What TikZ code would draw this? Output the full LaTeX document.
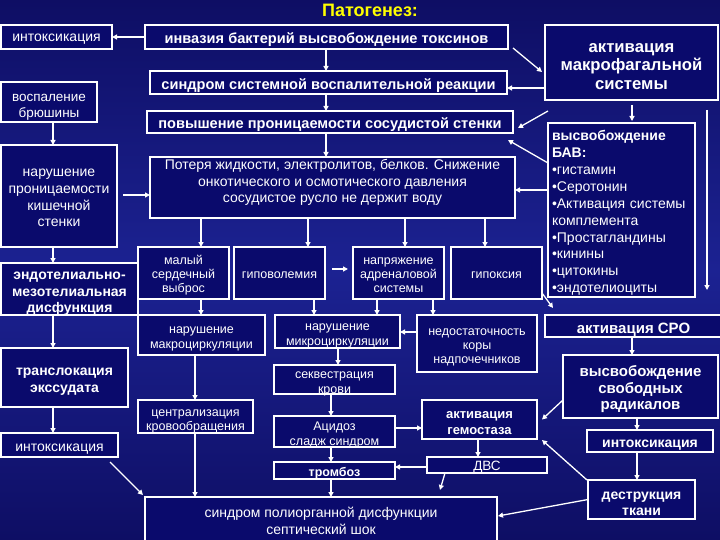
\documentclass[tikz,border=0pt]{standalone}
\usepackage{fontspec}
\setmainfont{Liberation Sans}
\usetikzlibrary{arrows.meta,calc}
\definecolor{bgA}{RGB}{14,14,100}
\definecolor{bgB}{RGB}{28,34,146}
\definecolor{boxfill}{RGB}{10,10,108}
\definecolor{ttl}{RGB}{255,255,0}
% \mybx{name}{cx}{cy}{w}{h}{text style}{shift down}{text}
\newcommand{\mybx}[8]{%
  \node[box,minimum width=#4,minimum height=#5] (#1) at (#2,#3) {};
  \node[lab,#6] (#1-t) at ([shift={(0,#7)}]#1.center) {#8};}
\begin{document}
\begin{tikzpicture}[x=1pt,y=-1pt,
 box/.style={draw=white,line width=1.3pt,fill=boxfill,inner sep=0pt,outer sep=0pt},
 lab/.style={text=white,align=center,inner sep=0pt},
 nt/.style={font=\fontsize{14}{16.7}\selectfont},
 sm/.style={font=\fontsize{12.5}{14.3}\selectfont},
 bd/.style={font=\bfseries\fontsize{14}{16.5}\selectfont},
 bdl/.style={font=\bfseries\fontsize{14.6}{17}\selectfont},
 arr/.style={draw=white,line width=1.3pt,-{Triangle[length=5pt,width=5pt]}}
]
\useasboundingbox (0,0) rectangle (720,540);
\shade[top color=bgA, bottom color=bgA, middle color=bgB] (0,0) rectangle (720,540);

\node[text=ttl,font=\bfseries\fontsize{18}{20}\selectfont] (title) at (370,10) {Патогенез:};

% left column
\mybx{intox1}{56.5}{37}{111}{24}{nt}{2.5}{интоксикация}
\mybx{vosp}{49}{102}{96}{40}{font=\fontsize{13.5}{16.5}\selectfont}{5.5}{воспаление\\брюшины}
\mybx{kish}{59}{196}{116}{102}{nt}{2}{нарушение\\проницаемости\\кишечной\\стенки}
\mybx{endo}{69.5}{289}{137}{52}{bd}{5}{эндотелиально-\\мезотелиальная\\дисфункция}
\mybx{transl}{64.5}{377.5}{127}{59}{bd}{4}{транслокация\\экссудата}
\mybx{intox2}{59.5}{445}{117}{24}{nt}{4}{интоксикация}

% central column
\mybx{inv}{326.5}{37}{363}{24}{bdl}{3}{инвазия бактерий высвобождение токсинов}
\mybx{sir}{328.5}{82.5}{357}{23}{bdl}{3}{синдром системной воспалительной реакции}
\mybx{perm}{330}{122}{366}{22}{bdl}{3}{повышение проницаемости сосудистой стенки}
\mybx{poter}{332.5}{187.5}{365}{61}{nt}{-5}{Потеря жидкости, электролитов, белков. Снижение\\онкотического и осмотического давления\\сосудистое русло не держит воду}

\mybx{maly}{183.5}{273}{91}{52}{sm}{2}{малый\\сердечный\\выброс}
\mybx{gipovol}{279.5}{273}{91}{52}{sm}{2}{гиповолемия}
\mybx{napr}{398.5}{273}{91}{52}{sm}{2}{напряжение\\адреналовой\\системы}
\mybx{gipox}{496.5}{273}{91}{52}{sm}{2}{гипоксия}

\mybx{macro}{201.5}{335}{127}{40}{sm}{4}{нарушение\\макроциркуляции}
\mybx{micro}{337.5}{331.5}{125}{33}{sm}{4.5}{нарушение\\микроциркуляции}
\mybx{nedost}{477}{343.5}{120}{57}{sm}{4}{недостаточность\\коры\\надпочечников}
\mybx{sekv}{334.5}{379.5}{121}{29}{sm}{4.5}{секвестрация\\крови}
\mybx{central}{195.5}{416.5}{115}{33}{sm}{5}{централизация\\кровообращения}
\mybx{acid}{334.5}{431.5}{121}{31}{sm}{3.5}{Ацидоз\\сладж синдром}
\mybx{gemo}{479.5}{419.5}{115}{39}{font=\bfseries\fontsize{13}{16}\selectfont}{3.5}{активация\\гемостаза}
\mybx{tromb}{334.5}{470.5}{121}{17}{font=\bfseries\fontsize{12.5}{14}\selectfont}{3}{тромбоз}
\mybx{dvs}{487}{465}{120}{16}{font=\fontsize{13.5}{15}\selectfont}{2}{ДВС}
\mybx{pon}{321}{519}{352}{44}{nt}{2}{синдром полиорганной дисфункции\\септический шок}

% right column
\mybx{mac}{631.5}{62.5}{173}{75}{font=\bfseries\fontsize{16.7}{18.5}\selectfont}{4}{активация\\макрофагальной\\системы}
\mybx{bav}{621.5}{210}{147}{174}{align=left,text width=139,font=\fontsize{14}{16.9}\selectfont}{3}{\textbf{высвобождение}\\\textbf{БАВ:}\\•гистамин\\•Серотонин\\•Активация системы\\комплемента\\•Простагландины\\•кинины\\•цитокины\\•эндотелиоциты}
\mybx{sro}{633.5}{326}{177}{22}{font=\bfseries\fontsize{15}{16.5}\selectfont}{4}{активация СРО}
\mybx{rad}{640.5}{386.5}{155}{63}{font=\bfseries\fontsize{15}{16.5}\selectfont}{3}{высвобождение\\свободных\\радикалов}
\mybx{intox3}{650}{441}{126}{22}{bd}{4}{интоксикация}
\mybx{destr}{641.5}{499.5}{107}{39}{bd}{4.5}{деструкция\\ткани}

\coordinate (mright) at (707,290);

% connectors
\draw[arr] (inv.west) -- (intox1.east);
\draw[arr] (326,0 |- inv.south) -- (326,0 |- sir.north);
\draw[arr] (326,0 |- sir.south) -- (326,0 |- perm.north);
\draw[arr] (326,0 |- perm.south) -- (326,0 |- poter.north);
\draw[arr] ([shift={(5,-1)}]inv.south east) -- ([shift={(-3,9.5)}]mac.west);
\draw[arr] (mac.west |- 0,88) -- (sir.east |- 0,88);
\draw[arr] ([shift={(3,11)}]mac.south west) -- ([shift={(5,6)}]perm.east);
\draw[arr] ([shift={(0,5)}]632,0 |- mac.south) -- ([shift={(0,-2)}]632,0 |- bav.north);
\draw[arr] ([shift={(0,10)}]707,0 |- mac.south) -- (mright);
\draw[arr] ([shift={(0,40)}]bav.north west) -- ([shift={(-5,7)}]perm.south east);
\draw[arr] (bav.west |- 0,190) -- (poter.east |- 0,190);
\draw[arr] ([shift={(0,-6)}]gipox.south east) -- ([shift={(8,-7)}]sro.north west);

\draw[arr] ([shift={(6,0)}]kish.east |- 0,195) -- (poter.west |- 0,195);
\draw[arr] (53,0 |- vosp.south) -- (53,0 |- kish.north);
\draw[arr] (53,0 |- kish.south) -- (53,0 |- endo.north);
\draw[arr] (53,0 |- endo.south) -- (53,0 |- transl.north);
\draw[arr] (53,0 |- transl.south) -- (53,0 |- intox2.north);
\draw[arr] ([shift={(-8,5)}]intox2.south east) -- ([shift={(-2,-2)}]pon.north west);

\draw[arr] (201,0 |- poter.south) -- (201,0 |- maly.north);
\draw[arr] (308,0 |- poter.south) -- (308,0 |- gipovol.north);
\draw[arr] (405,0 |- poter.south) -- (405,0 |- napr.north);
\draw[arr] (485,0 |- poter.south) -- (485,0 |- gipox.north);
\draw[arr] ([shift={(7,0)}]gipovol.east |- 0,269) -- ([shift={(-5,0)}]napr.west |- 0,269);

\draw[arr] (201,0 |- maly.south) -- (201,0 |- macro.north);
\draw[arr] (314,0 |- gipovol.south) -- (314,0 |- micro.north);
\draw[arr] (377,0 |- napr.south) -- (377,0 |- micro.north);
\draw[arr] (433,0 |- napr.south) -- (433,0 |- nedost.north);
\draw[arr] (nedost.west |- 0,332) -- (micro.east |- 0,332);

\draw[arr] (195,0 |- macro.south) -- (195,0 |- central.north);
\draw[arr] (195,0 |- central.south) -- (195,0 |- pon.north);
\draw[arr] (338,0 |- micro.south) -- (338,0 |- sekv.north);
\draw[arr] (331,0 |- sekv.south) -- (331,0 |- acid.north);
\draw[arr] (331,0 |- acid.south) -- (331,0 |- tromb.north);
\draw[arr] (331,0 |- tromb.south) -- (331,0 |- pon.north);
\draw[arr] (acid.east |- 0,428) -- (gemo.west |- 0,428);
\draw[arr] (478,0 |- gemo.south) -- (478,0 |- dvs.north);
\draw[arr] (dvs.west |- 0,467) -- (tromb.east |- 0,467);
\draw[arr] ([shift={(18,0)}]dvs.south west) -- ([shift={(13,17)}]dvs.south west);

\draw[arr] ([shift={(-1,0)}]destr.north west) -- ([shift={(5,1)}]gemo.south east);
\draw[arr] (destr.west) -- ([shift={(1,-3)}]pon.east);
\draw[arr] ([shift={(0,-18)}]rad.south west) -- ([shift={(5,0)}]gemo.east);
\draw[arr] (632,0 |- sro.south) -- (632,0 |- rad.north);
\draw[arr] (637,0 |- rad.south) -- (637,0 |- intox3.north);
\draw[arr] (637,0 |- intox3.south) -- (637,0 |- destr.north);
\end{tikzpicture}
\end{document}
